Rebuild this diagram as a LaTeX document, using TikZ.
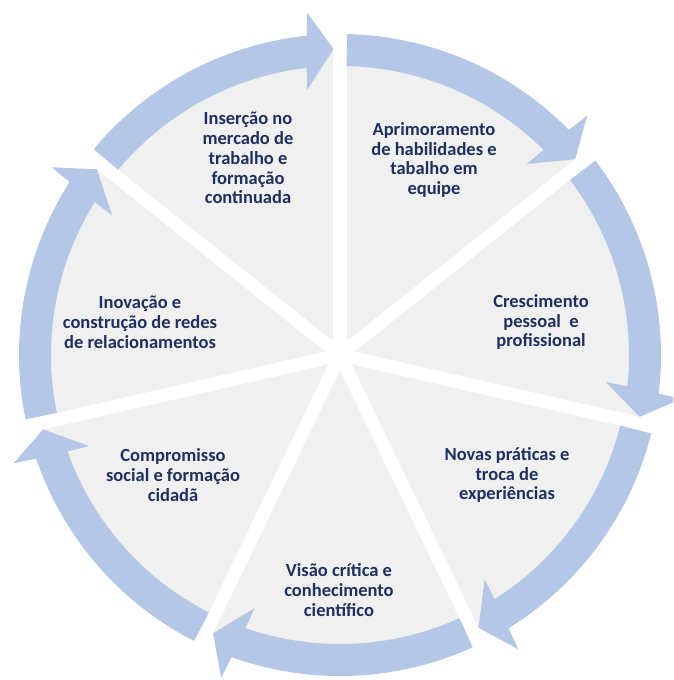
\documentclass[tikz,border=0pt]{standalone}
\usepackage{fontspec}
\setmainfont{Carlito}

\definecolor{ringblue}{HTML}{B4C7E7}
\definecolor{sectorgrey}{HTML}{F0F0F0}
\definecolor{textnavy}{HTML}{1F3060}

% curved block arrow on the ring: #1 = tail angle, #2 = tip angle (clockwise)
\newcommand{\ringarrow}[2]{%
  \fill[ringblue] (#1:321) arc[start angle=#1, end angle=#2+4.76, radius=321]
    -- (#2+4.3:344) -- (#2:306) -- (#2+5.9:267) -- (#2+5.42:289)
    arc[start angle=#2+5.42, end angle=#1, radius=289] -- cycle;
}

\begin{document}
\begin{tikzpicture}[x=1pt, y=1pt,
  label/.style={align=center, text=textnavy,
    font=\bfseries\fontsize{18.5}{19.8}\selectfont},
  gap/.style={white, line width=13pt}]
% \draw [help lines, step=50] (-340,-325) grid (333,355);

\fill[white] (-340,-325) rectangle (333,355);
\useasboundingbox (-340,-325) rectangle (333,355);
\clip (-340,-325) rectangle (333,355);

% the seven sectors
\fill[sectorgrey] (0,0) circle[radius=305];
\draw[gap] (0,0) -- (90:340);
\draw[gap] (0,0) -- (38.571:340);
\draw[gap] (0,0) -- (-12.857:340);
\draw[gap] (0,0) -- (-64.286:340);
\draw[gap] (0,0) -- (-115.714:340);
\draw[gap] (0,0) -- (-167.143:340);
\draw[gap] (0,0) -- (-218.571:340);

% the cycle of arrows
\ringarrow{88.7}{39.771}
\ringarrow{37.271}{-11.657}
\ringarrow{-14.157}{-63.086}
\ringarrow{-65.586}{-114.514}
\ringarrow{-117.014}{-165.943}
\ringarrow{-168.443}{-217.371}
\ringarrow{-219.871}{-268.8}

\node[label] (insercao) at (-92,197)  {Inserção no\\mercado de\\trabalho e\\formação\\continuada};
\node[label] (aprimor)  at (94,195)   {Aprimoramento\\de habilidades e\\tabalho em\\equipe};
\node[label] (cresc)    at (201,33)   {Crescimento\\pessoal~ e\\profissional};
\node[label] (novas)    at (167,-120) {Novas práticas e\\troca de\\experiências};
\node[label] (visao)    at (-1,-235)  {Visão crítica e\\conhecimento\\científico};
\node[label] (comprom)  at (-167,-120) {Compromisso\\social e formação\\cidadã};
\node[label] (inovacao) at (-200,33)  {Inovação e\\construção de redes\\de relacionamentos};
\end{tikzpicture}
\end{document}
